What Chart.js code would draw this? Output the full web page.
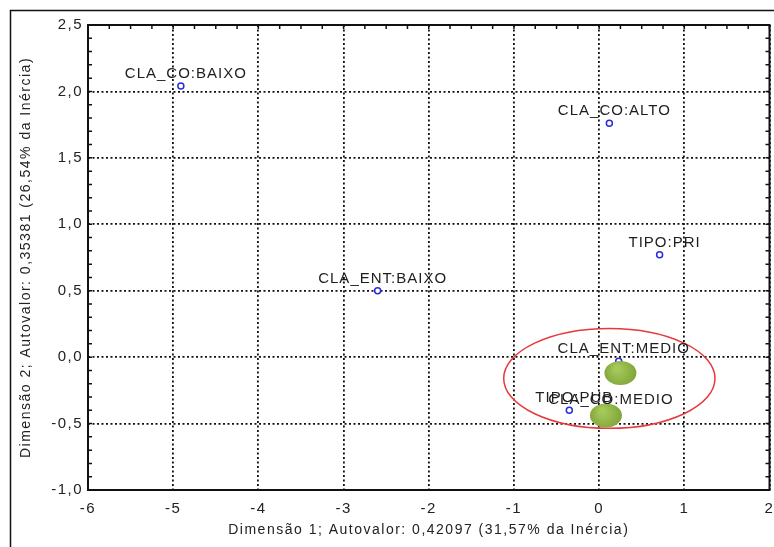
<!DOCTYPE html>
<html>
<head>
<meta charset="utf-8">
<script src="https://cdn.jsdelivr.net/npm/chart.js@4/dist/chart.umd.min.js"></script>
<style>
  html, body { margin: 0; padding: 0; background: #fff; overflow: hidden; }
</style>
</head>
<body>
<canvas id="chart" width="774" height="547"></canvas>
<script>
// categories and coordinates (dimension 1, dimension 2)
const categoryLabels = ["CLA_CO:BAIXO", "CLA_CO:ALTO", "TIPO:PRI", "CLA_ENT:BAIXO", "CLA_ENT:MEDIO", "TIPO:PUB", "CLA_CO:MEDIO"];
const dim1Values = [-4.91, 0.12, 0.71, -2.60, 0.23, -0.35, 0.08];
const dim2Values = [2.04, 1.76, 0.77, 0.50, -0.03, -0.40, -0.41];

// green highlight marks and the red ring round them
const highlightDim1 = [0.25, 0.08];
const highlightDim2 = [-0.12, -0.44];
const ringCenter = [0.12, -0.16];
const ringRadius = [1.24, 0.376];

// axis ticks
const xTickValues = [-6, -5, -4, -3, -2, -1, 0, 1, 2];
const yTickValues = [-1.0, -0.5, 0.0, 0.5, 1.0, 1.5, 2.0, 2.5];

const xTitle = "Dimensão 1; Autovalor: 0,42097 (31,57% da Inércia)";
const yTitle = "Dimensão 2; Autovalor: 0,35381 (26,54% da Inércia)";

const points = dim1Values.map((x, i) => ({ x: x, y: dim2Values[i] }));
const fontFamily = "'Liberation Sans', Arial, sans-serif";

const decorations = {
  id: "decorations",
  beforeDraw(chart) {
    chart.ctx.letterSpacing = "1.5px";
  },
  afterDatasetsDraw(chart) {
    const ctx = chart.ctx;
    const xs = chart.scales.x, ys = chart.scales.y;
    const area = chart.chartArea;
    ctx.save();

    // red ring
    const cx = xs.getPixelForValue(ringCenter[0]);
    const cy = ys.getPixelForValue(ringCenter[1]);
    const rx = Math.abs(xs.getPixelForValue(ringCenter[0] + ringRadius[0]) - cx);
    const ry = Math.abs(ys.getPixelForValue(ringCenter[1] + ringRadius[1]) - cy);
    ctx.beginPath();
    ctx.ellipse(cx, cy, rx, ry, 0, 0, Math.PI * 2);
    ctx.strokeStyle = "#e8383a";
    ctx.lineWidth = 1.5;
    ctx.stroke();

    // green blobs
    highlightDim1.forEach((hx, i) => {
      const px = xs.getPixelForValue(hx);
      const py = ys.getPixelForValue(highlightDim2[i]);
      const g = ctx.createRadialGradient(px - 4, py - 5, 2, px, py, 17);
      g.addColorStop(0, "#a6c95a");
      g.addColorStop(1, "#7ea236");
      ctx.beginPath();
      ctx.ellipse(px, py, 16, 12, 0, 0, Math.PI * 2);
      ctx.fillStyle = g;
      ctx.fill();
    });

    // point labels
    ctx.letterSpacing = "1px";
    ctx.font = "15px " + fontFamily;
    ctx.fillStyle = "#1e1e1e";
    ctx.textAlign = "center";
    ctx.textBaseline = "middle";
    const meta = chart.getDatasetMeta(0);
    meta.data.forEach((el, i) => {
      ctx.fillText(categoryLabels[i], el.x + 5, el.y - 12);
    });

    // minor ticks, inside the frame
    ctx.strokeStyle = "#111";
    ctx.lineWidth = 1.5;
    ctx.beginPath();
    for (let v = xs.min; v <= xs.max + 1e-9; v += 0.25) {
      const px = xs.getPixelForValue(v);
      ctx.moveTo(px, area.top);
      ctx.lineTo(px, area.top + 4);
    }
    for (let v = ys.min; v <= ys.max + 1e-9; v += 0.1) {
      const py = ys.getPixelForValue(v);
      ctx.moveTo(area.left, py);
      ctx.lineTo(area.left + 4, py);
      ctx.moveTo(area.right, py);
      ctx.lineTo(area.right - 4, py);
    }
    ctx.stroke();

    // plot frame
    ctx.lineWidth = 2;
    ctx.strokeStyle = "#111";
    ctx.strokeRect(area.left, area.top, area.right - area.left, area.bottom - area.top);

    // outer frame
    ctx.lineWidth = 1.5;
    ctx.strokeRect(10.5, 10.5, 1000, 1000);
    ctx.restore();
  }
};

new Chart(document.getElementById("chart").getContext("2d"), {
  type: "scatter",
  data: {
    datasets: [{
      data: points,
      pointRadius: 3,
      pointHoverRadius: 3,
      pointBorderWidth: 1.5,
      pointBorderColor: "#2b2bdc",
      pointBackgroundColor: "#ffffff"
    }]
  },
  options: {
    responsive: false,
    animation: false,
    devicePixelRatio: 1,
    layout: { padding: { top: 25, right: 3, left: 0, bottom: 0 } },
    plugins: { legend: { display: false }, tooltip: { enabled: false } },
    scales: {
      x: {
        type: "linear",
        min: -6, max: 2,
        afterBuildTicks: s => { s.ticks = xTickValues.map(v => ({ value: v })); },
        afterFit: s => { s.height = 57; s.paddingLeft = 0; s.paddingRight = 0; },
        ticks: {
          callback: v => String(v),
          color: "#222",
          font: { family: fontFamily, size: 15 },
          padding: 10,
          maxRotation: 0
        },
        grid: { color: "#111", lineWidth: 1.8, drawTicks: false },
        border: { display: false, dash: [2, 2.5] },
        title: {
          display: true, text: xTitle, color: "#222",
          font: { family: fontFamily, size: 14 },
          padding: { top: 0, bottom: 8 }
        }
      },
      y: {
        type: "linear",
        min: -1, max: 2.5,
        afterBuildTicks: s => { s.ticks = yTickValues.map(v => ({ value: v })); },
        afterFit: s => { s.width = 88; s.paddingTop = 0; s.paddingBottom = 0; },
        ticks: {
          callback: v => v.toFixed(1).replace(".", ","),
          color: "#222",
          font: { family: fontFamily, size: 15 },
          padding: 5
        },
        grid: { color: "#111", lineWidth: 1.8, drawTicks: false },
        border: { display: false, dash: [2, 2.5] },
        title: {
          display: true, text: yTitle, color: "#222",
          font: { family: fontFamily, size: 14 },
          padding: { top: 18, bottom: 0 }
        }
      }
    }
  },
  plugins: [decorations]
});
</script>
</body>
</html>
